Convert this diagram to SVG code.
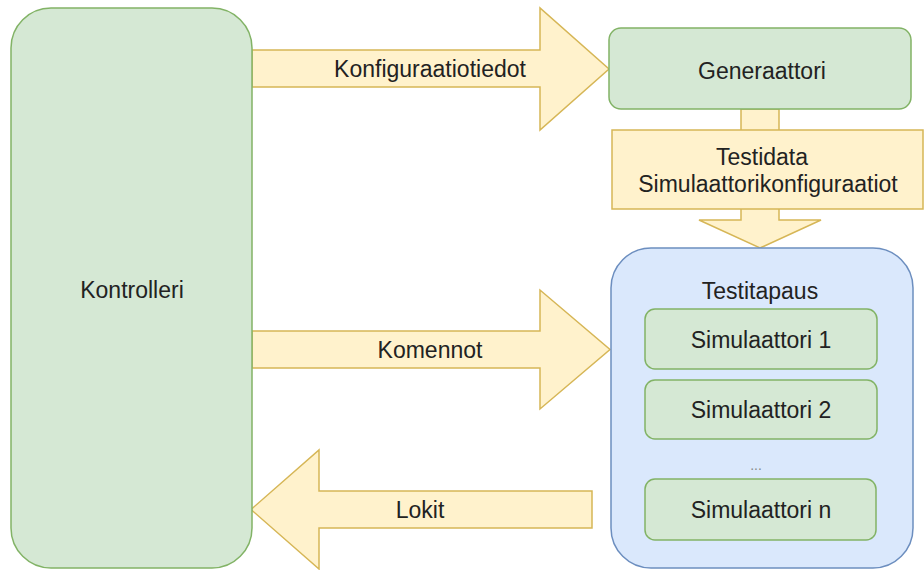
<svg xmlns="http://www.w3.org/2000/svg" width="924" height="570" viewBox="0 0 924 570">
<style>
.g{fill:#d5e8d4;stroke:#82b366;stroke-width:1.5}
.b{fill:#dae8fc;stroke:#6c8ebf;stroke-width:1.5}
.a{fill:#fff2cc;stroke:#d6b656;stroke-width:1.5}
text{font-family:"Liberation Sans",Arial,sans-serif;font-size:23px;fill:#222;text-anchor:middle}
</style>
<rect width="924" height="570" fill="#fff"/>
<g id="connectors">
<g id="arrow-konfig">
<polygon class="a" points="252,50 540,50 540,8 609,69 540,130 540,87 252,87"/>
<text x="430" y="77">Konfiguraatiotiedot</text>
</g>
<g id="arrow-testidata">
<polygon class="a" points="741,109 779,109 779,220 821,220 760,248 699,220 741,220"/>
<rect class="a" x="612" y="130" width="311" height="79"/>
<text x="762" y="165">Testidata</text>
<text x="768" y="192">Simulaattorikonfiguraatiot</text>
</g>
<g id="arrow-komennot">
<polygon class="a" points="252,331 540,331 540,290 610,349.5 540,409 540,368 252,368"/>
<text x="430" y="358">Komennot</text>
</g>
<g id="arrow-lokit">
<polygon class="a" points="592,491 319,491 319,450 251,509.5 319,569 319,528 592,528"/>
<text x="420" y="518">Lokit</text>
</g>
</g>
<g id="kontrolleri">
<rect class="g" x="11" y="8" width="241" height="560" rx="40" ry="40"/>
<text x="132" y="298">Kontrolleri</text>
</g>
<g id="generaattori">
<rect class="g" x="609" y="28" width="302" height="81" rx="12" ry="12"/>
<text x="762" y="79">Generaattori</text>
</g>
<g id="testitapaus">
<rect class="b" x="611" y="248" width="302" height="320" rx="40" ry="40"/>
<text x="760" y="299">Testitapaus</text>
</g>
<g id="simulaattori1">
<rect class="g" x="645" y="309" width="232" height="60" rx="10" ry="10"/>
<text x="761" y="348">Simulaattori 1</text>
</g>
<g id="simulaattori2">
<rect class="g" x="645" y="380" width="232" height="59" rx="10" ry="10"/>
<text x="761" y="418">Simulaattori 2</text>
</g>
<text x="756" y="470" style="font-size:14px;fill:#888">...</text>
<g id="simulaattorin">
<rect class="g" x="645" y="479" width="231" height="61" rx="10" ry="10"/>
<text x="761" y="518">Simulaattori n</text>
</g>
</svg>
